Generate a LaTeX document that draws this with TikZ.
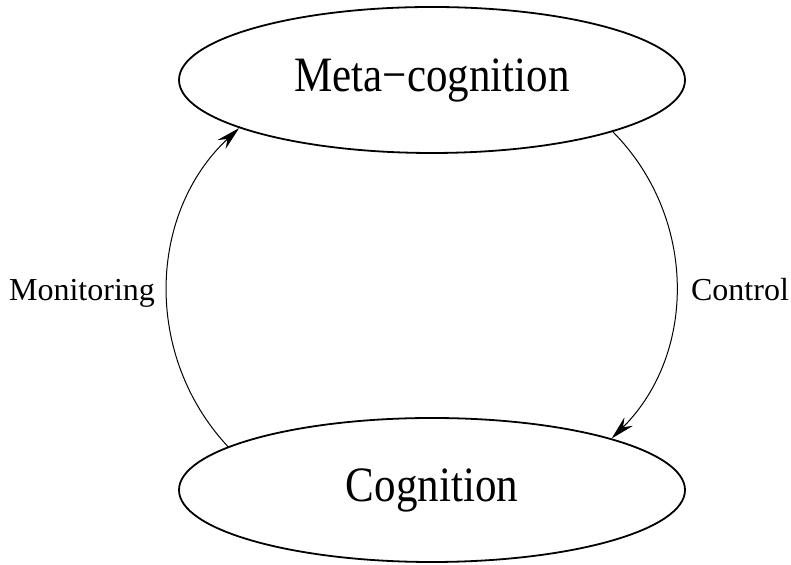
\documentclass[tikz,border=0pt]{standalone}
\usepackage{fontspec}
\setmainfont{Liberation Serif}
\usetikzlibrary{arrows.meta,shapes.geometric}
\newcommand{\tallt}[1]{\scalebox{1}[1.15]{#1}}

\begin{document}
\begin{tikzpicture}[x=0.5pt,y=0.5pt,
  elp/.style = {draw, ellipse, line width=0.9pt, minimum width=253pt, minimum height=73pt,
                inner sep=0pt, font=\fontsize{21.5}{24}\selectfont},
  lbl/.style = {anchor=base, font=\fontsize{16}{18}\selectfont},
  ar/.style  = {-{Stealth[length=12pt,width=6pt,inset=4pt]}, line width=0.5pt}
]
\useasboundingbox (0,0) rectangle (791,565);

% ---------- the two levels ------------------------------------------
\node[elp] (meta) at (432,485) {\tallt{Meta−cognition}};
\node[elp, minimum height=72pt] (cog) at (432,75) {\tallt{Cognition}};

% ---------- loop arrows ---------------------------------------------
\draw[ar] (cog.168) to[bend left=45] (meta.194);
\draw[ar] (meta.344) to[bend left=45] (cog.16);

% ---------- labels --------------------------------------------------
\node[lbl] (mon) at (82,264) {Monitoring};
\node[lbl] (ctl) at (740,264) {Control};
\end{tikzpicture}
\end{document}
